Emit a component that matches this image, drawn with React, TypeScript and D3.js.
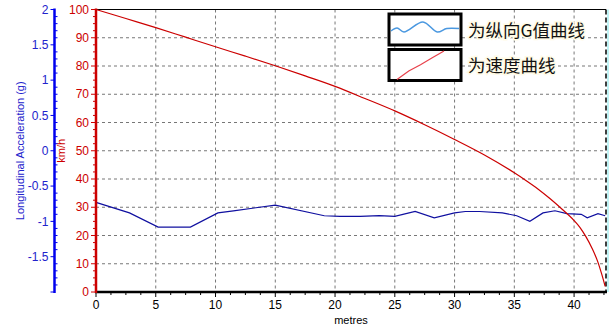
import React, { useEffect, useRef } from "react";
import * as d3 from "d3";

// distance (m), speed (km/h)
const speedDist = [0, 2.5, 5, 7.5, 10, 12.5, 15, 17.5, 20, 22.5, 25, 27.5, 30, 32.5, 35, 36, 37, 38, 39, 40, 40.5, 41, 41.5, 42, 42.3, 42.6];
const speedVals = [100, 96.8, 93.6, 90.2, 86.8, 83.5, 80.1, 76.5, 72.8, 68.5, 64.1, 59.2, 54, 48.5, 42.2, 39.4, 36.4, 33, 29.3, 25.3, 22.8, 19.5, 15.5, 10.5, 6.5, 2];

// distance (m), longitudinal G
const gDist = [0, 2.8, 5.2, 7.9, 10.2, 11.5, 15, 19.1, 20.4, 22.1, 23.7, 25, 26.7, 28.3, 30, 30.9, 32.1, 34, 35.2, 36.3, 37.4, 38.4, 39.4, 40.6, 41.1, 42, 42.6];
const gVals = [-0.73, -0.88, -1.08, -1.08, -0.88, -0.85, -0.77, -0.92, -0.93, -0.93, -0.92, -0.93, -0.86, -0.95, -0.88, -0.86, -0.86, -0.88, -0.92, -1.0, -0.88, -0.85, -0.89, -0.9, -0.95, -0.89, -0.92];

const xTicks = [0, 5, 10, 15, 20, 25, 30, 35, 40];
const speedTicks = [0, 10, 20, 30, 40, 50, 60, 70, 80, 90, 100];
const gTicks = [-1.5, -1, -0.5, 0, 0.5, 1, 1.5, 2];
const gTickLabels = ["-1.5", "-1", "-0.5", "0", "0.5", "1", "1.5", "2"];

const legendLabels = ["为纵向G值曲线", "为速度曲线"];
// legend sample swatches (unitless shape values)
const legendWaveX = [0, 0.09, 0.19, 0.47, 0.68, 0.82, 1];
const legendWaveY = [0.1, 0.4, 0, 1, 0, 0.35, 0.35];
const legendRampX = [0, 0.25, 0.5, 0.75, 1];
const legendRampY = [0.0, 0.3, 0.52, 0.76, 1.0];

export default function App() {
  const ref = useRef<SVGSVGElement>(null);

  useEffect(() => {
    const svg = d3.select(ref.current);
    svg.selectAll("*").remove();

    const L = 96, R = 606, T = 9.5, B = 292;
    const x = d3.scaleLinear().domain([0, 42.67]).range([L, R]);
    const yS = d3.scaleLinear().domain([0, 100]).range([B, T]);
    const yG = d3.scaleLinear().domain([-2, 2]).range([B, T]);

    const font = "Liberation Sans, Arial, sans-serif";

    // grid
    const grid = svg.append("g");
    xTicks.filter((t) => t > 0).forEach((t) => {
      grid.append("line").attr("x1", x(t)).attr("x2", x(t)).attr("y1", T).attr("y2", B)
        .attr("stroke", "#777").attr("stroke-dasharray", "3,3").attr("stroke-width", 1);
    });
    speedTicks.filter((t) => t > 0 && t < 100).forEach((t) => {
      grid.append("line").attr("x1", L).attr("x2", R).attr("y1", yS(t)).attr("y2", yS(t))
        .attr("stroke", "#777").attr("stroke-dasharray", "3,3").attr("stroke-width", 1);
    });

    // top border
    svg.append("line").attr("x1", L).attr("x2", R).attr("y1", T).attr("y2", T).attr("stroke", "#000").attr("stroke-width", 1);
    // right border
    svg.append("line").attr("x1", R + 2).attr("x2", R + 2).attr("y1", T).attr("y2", B)
      .attr("stroke", "#bff3f5").attr("stroke-width", 2);
    svg.append("line").attr("x1", R).attr("x2", R).attr("y1", T).attr("y2", B)
      .attr("stroke", "#000").attr("stroke-dasharray", "5,3").attr("stroke-width", 1.5);

    // curves
    const gLine = d3.line<number>().x((_, i) => x(gDist[i])).y((d) => yG(d));
    svg.append("path").attr("d", gLine(gVals)).attr("fill", "none").attr("stroke", "#1010a0").attr("stroke-width", 1.2);
    const sLine = d3.line<number>().x((_, i) => x(speedDist[i])).y((d) => yS(d)).curve(d3.curveMonotoneX);
    svg.append("path").attr("d", sLine(speedVals)).attr("fill", "none").attr("stroke", "#cc0000").attr("stroke-width", 1.2);

    // x axis
    svg.append("line").attr("x1", L - 1).attr("x2", R + 1).attr("y1", B).attr("y2", B).attr("stroke", "#000").attr("stroke-width", 2.5);
    d3.range(0, 42.6, 1.25).forEach((t) => {
      const major = Math.abs(t / 5 - Math.round(t / 5)) < 1e-6;
      svg.append("line").attr("x1", x(t)).attr("x2", x(t)).attr("y1", B).attr("y2", B + (major ? 5 : 3))
        .attr("stroke", "#000").attr("stroke-width", 1);
    });
    xTicks.forEach((t) => {
      svg.append("text").attr("x", x(t)).attr("y", B + 17).attr("text-anchor", "middle")
        .attr("font-family", font).attr("font-size", 12).attr("fill", "#000").text(String(t));
    });
    svg.append("text").attr("x", 351).attr("y", 324).attr("text-anchor", "middle")
      .attr("font-family", font).attr("font-size", 11).attr("fill", "#000").text("metres");

    // speed axis (red)
    const red = "#cc0000";
    svg.append("line").attr("x1", L).attr("x2", L).attr("y1", T - 1).attr("y2", B + 1).attr("stroke", red).attr("stroke-width", 2.5);
    d3.range(0, 100.01, 2.5).forEach((t) => {
      const major = Math.abs(t / 10 - Math.round(t / 10)) < 1e-6;
      svg.append("line").attr("x1", L - (major ? 5 : 3)).attr("x2", L).attr("y1", yS(t)).attr("y2", yS(t))
        .attr("stroke", red).attr("stroke-width", 1);
    });
    speedTicks.forEach((t) => {
      svg.append("text").attr("x", L - 7).attr("y", yS(t)).attr("dy", "0.35em").attr("text-anchor", "end")
        .attr("font-family", font).attr("font-size", 12).attr("fill", red).text(String(t));
    });
    svg.append("text").attr("transform", `translate(65,${yG(0)}) rotate(-90)`).attr("text-anchor", "middle")
      .attr("font-family", font).attr("font-size", 11).attr("fill", red).text("km/h");

    // g axis (blue)
    const blue = "#0000ee";
    const gx = 54.5;
    svg.append("line").attr("x1", gx).attr("x2", gx).attr("y1", T - 1).attr("y2", B + 1).attr("stroke", blue).attr("stroke-width", 2.5);
    d3.range(-2, 2.001, 0.1).forEach((t) => {
      const major = Math.abs(t * 2 - Math.round(t * 2)) < 1e-6;
      if (major) {
        svg.append("line").attr("x1", gx - 4).attr("x2", gx).attr("y1", yG(t)).attr("y2", yG(t)).attr("stroke", blue).attr("stroke-width", 1);
      } else {
        svg.append("line").attr("x1", gx).attr("x2", gx + 3).attr("y1", yG(t)).attr("y2", yG(t)).attr("stroke", blue).attr("stroke-width", 1);
      }
    });
    gTicks.forEach((t, i) => {
      svg.append("text").attr("x", gx - 6).attr("y", yG(t)).attr("dy", "0.35em").attr("text-anchor", "end")
        .attr("font-family", font).attr("font-size", 12).attr("fill", "#2222cc").text(gTickLabels[i]);
    });
    svg.append("text").attr("transform", `translate(24,${yG(0)}) rotate(-90)`).attr("text-anchor", "middle")
      .attr("font-family", font).attr("font-size", 11).attr("fill", "#2222cc").text("Longitudinal Acceleration (g)");

    // legend
    const lg = svg.append("g");
    const boxX = 389, boxW = 72, boxH = 31;
    const boxYs = [14, 49.5];
    boxYs.forEach((by) => {
      lg.append("rect").attr("x", boxX).attr("y", by).attr("width", boxW).attr("height", boxH)
        .attr("fill", "#fff").attr("stroke", "#000").attr("stroke-width", 3);
    });
    const wx = d3.scaleLinear().domain([0, 1]).range([boxX + 2, boxX + boxW - 2]);
    const wy = d3.scaleLinear().domain([0, 1]).range([boxYs[0] + 18, boxYs[0] + 8]);
    lg.append("path")
      .attr("d", d3.line<number>().x((_, i) => wx(legendWaveX[i])).y((d) => wy(d)).curve(d3.curveCatmullRom)(legendWaveY))
      .attr("fill", "none").attr("stroke", "#4a98e0").attr("stroke-width", 1.5);
    const rx = d3.scaleLinear().domain([0, 1]).range([boxX + 8, boxX + 55]);
    const ry = d3.scaleLinear().domain([0, 1]).range([boxYs[1] + boxH - 1, boxYs[1] + 1.5]);
    lg.append("path")
      .attr("d", d3.line<number>().x((_, i) => rx(legendRampX[i])).y((d) => ry(d))(legendRampY))
      .attr("fill", "none").attr("stroke", "#e8404a").attr("stroke-width", 1.2);
    legendLabels.forEach((lab, i) => {
      lg.append("text").attr("x", 468).attr("y", boxYs[i] + boxH / 2 + 1).attr("dy", "0.35em")
        .attr("font-family", "Noto Sans CJK SC, sans-serif").attr("font-size", 17.5).attr("fill", "#111")
        .attr("stroke", "#fffbe6").attr("stroke-width", 3).attr("paint-order", "stroke").text(lab);
    });
  }, []);

  return (
    <svg ref={ref} width={616} height={330} style={{ position: "absolute", left: 0, top: 0, background: "#fff" }} />
  );
}
